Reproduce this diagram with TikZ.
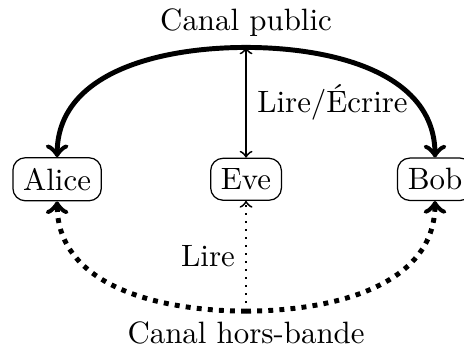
\documentclass[tikz,border=0pt]{standalone}
\usepackage{amsmath}
\usepackage{tikz}

\begin{document}
\begin{tikzpicture}[
  agent/.style={draw, rounded corners},
  canal/.style={->, ultra thick},
  hb/.style={->, ultra thick, dotted},
  ecoute/.style={semithick}
]
\useasboundingbox (-2.80,-2.01) rectangle (2.48,2.04);
\node[agent] (alice) at (-2.15,0) {Alice};
\node[agent] (eve) at (0,0) {Eve};
\node[agent] (bob) at (2.15,0) {Bob};
\coordinate (pub) at (0,1.5);
\coordinate (hors) at (0,-1.5);
\node[above] (pubtxt) at (pub) {Canal public};
\node[below] (horstxt) at (hors) {Canal hors-bande};
\draw [canal] (pub) to[out=180,in=90] (alice);
\draw [canal] (pub) to[out=0,in=90] (bob);
\draw [hb] (hors) to[out=180,in=-90] (alice);
\draw [hb] (hors) to[out=0,in=-90] (bob);
\draw [ecoute,<->] (pub) -- node[right] {Lire/\'Ecrire} (eve);
\draw [ecoute,->,dotted] (hors) -- node[left] {Lire} (eve);
\end{tikzpicture}
\end{document}
